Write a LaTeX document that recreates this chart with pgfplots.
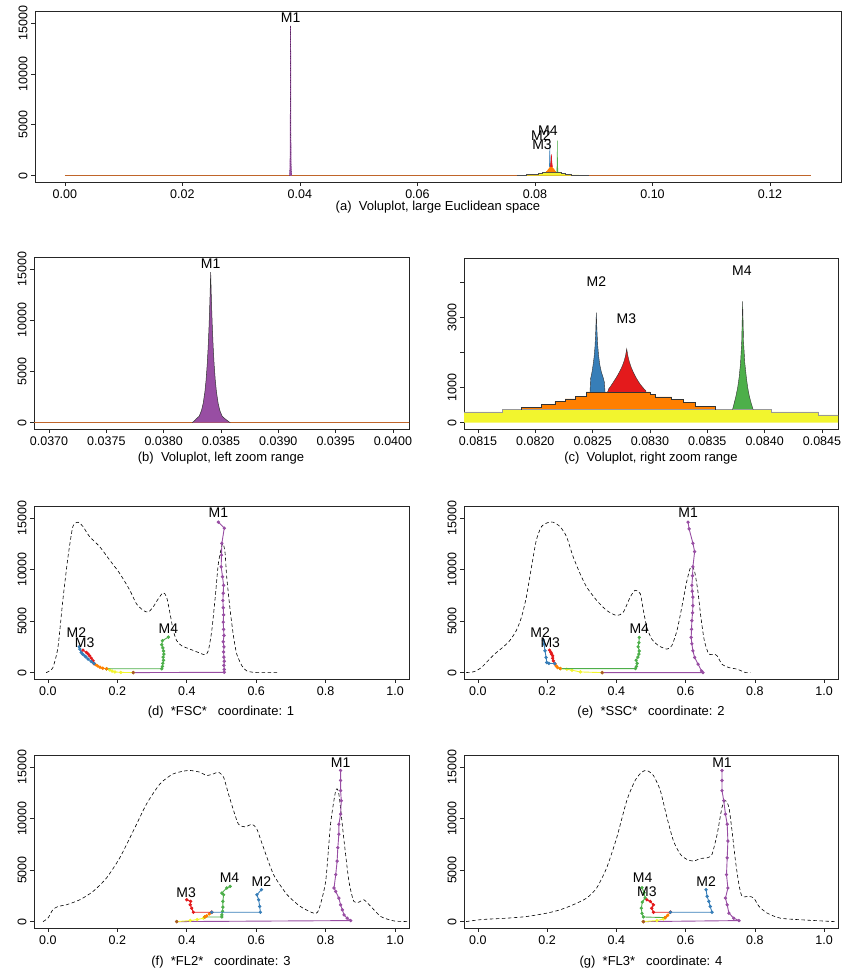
\documentclass[border=0pt]{standalone}
\usepackage{fontspec}
\setmainfont{Liberation Sans}
\usepackage{pgfplots}
\usepackage{pgfplotstable}
\pgfplotsset{compat=1.18}

\definecolor{rpurple}{HTML}{984EA3}
\definecolor{rblue}{HTML}{377EB8}
\definecolor{rred}{HTML}{E41A1C}
\definecolor{rgreen}{HTML}{4DAF4A}
\definecolor{rorange}{HTML}{FF7F00}
\definecolor{ryellow}{HTML}{F2F52E}
\definecolor{rbrown}{HTML}{A65628}
\definecolor{rbase}{HTML}{C0652A}

\newcommand\ticksz{\fontsize{12.5}{14}\selectfont}
\newcommand\labsz{\fontsize{14}{16}\selectfont}
\newcommand\capsz{\fontsize{13}{15}\selectfont}

% voluplot shapes
\pgfplotstableread{
x y
0.038250 0
0.038270 200
0.038285 380
0.038310 627
0.038330 1178
0.038345 1892
0.038360 3037
0.038370 4164
0.038380 5706
0.038388 7345
0.038395 9160
0.038400 10720
0.038405 12550
0.038410 14700
0.038415 12550
0.038420 10720
0.038425 9160
0.038432 7345
0.038440 5706
0.038450 4164
0.038460 3037
0.038475 1892
0.038490 1178
0.038510 627
0.038535 380
0.038555 200
0.038580 0
}\spikeMone

\pgfplotstableread{
x y
0.0770 0
0.0770 50
0.0785 50
0.0785 100
0.0797 100
0.0797 160
0.0806 160
0.0806 230
0.0812 230
0.0812 305
0.081715 305
0.081715 371
0.084061 371
0.084061 305
0.084468 305
0.084468 219
0.0852 219
0.0852 150
0.0862 150
0.0862 90
0.0875 90
0.0875 40
0.0890 40
0.0890 0
}\yellowhist

\pgfplotstableread{
x y
0.081881 360
0.081881 438
0.082055 438
0.082055 514
0.082171 514
0.082171 600
0.082259 600
0.082259 676
0.082346 676
0.082346 752
0.082442 752
0.082442 876
0.083000 876
0.083000 800
0.083044 800
0.083044 733
0.083189 733
0.083189 657
0.083288 657
0.083288 581
0.083392 581
0.083392 467
0.083567 467
0.083567 360
}\orangehist

\pgfplotstableread{
x y
0.082477 876
0.082482 1250
0.082492 1400
0.082502 1600
0.082512 1850
0.082520 2150
0.082527 2600
0.082532 3124
0.082537 2650
0.082544 2200
0.082552 1900
0.082562 1650
0.082575 1450
0.082590 1300
0.082602 1150
0.082608 876
}\spikeMtwo

\pgfplotstableread{
x y
0.082631 876
0.082640 960
0.082660 1050
0.082680 1150
0.082700 1250
0.082720 1360
0.082740 1480
0.082760 1620
0.082775 1760
0.082787 1900
0.082797 2095
0.082807 1900
0.082820 1730
0.082835 1580
0.082855 1430
0.082875 1300
0.082895 1190
0.082915 1090
0.082940 990
0.082965 900
0.082965 876
}\spikeMthree

\pgfplotstableread{
x y
0.083720 371
0.083735 560
0.083750 760
0.083765 1000
0.083778 1300
0.083790 1700
0.083800 2300
0.083808 3448
0.083816 2300
0.083827 1700
0.083840 1300
0.083852 1000
0.083866 760
0.083882 560
0.083900 371
}\spikeMfour

\pgfplotsset{
  rbox/.style={
    scale only axis, anchor=south west, clip mode=individual,
    scaled ticks=false,
    axis line style={black!85, line width=0.6pt},
    tick style={black!85, line width=0.6pt},
    tick align=outside, major tick length=4pt,
    xtick pos=bottom, ytick pos=left,
    ticklabel style={font=\ticksz},
    yticklabel style={rotate=90, anchor=south},
  },
  coord/.style={rbox, width=375pt, height=173pt,
    xmin=-0.04, xmax=1.04, ymin=-620, ymax=16170,
    xtick={0,0.2,0.4,0.6,0.8,1},
    xticklabels={0.0,0.2,0.4,0.6,0.8,1.0},
    ytick={0,5000,10000,15000},
    yticklabels={0,5000,10000,15000}},
  dens/.style={black, line width=0.6pt, dash pattern=on 3.5pt off 2.5pt, smooth, tension=0.4},
  traj/.style={mark=*, mark size=1.2pt, line width=0.9pt},
  root/.style={only marks, mark=*, mark size=1.5pt, rbrown},
}

\begin{document}
\begin{tikzpicture}
\path[use as bounding box] (0pt,0pt) rectangle (843pt,976pt);

% ---------------- (a)
\begin{axis}[rbox, at={(35pt,794pt)}, width=806pt, height=171pt,
  xmin=-0.00508, xmax=0.13208, ymin=-620, ymax=16170,
  xtick={0,0.02,0.04,0.06,0.08,0.1,0.12},
  xticklabels={0.00,0.02,0.04,0.06,0.08,0.10,0.12},
  ytick={0,5000,10000,15000}, yticklabels={0,5000,10000,15000}]
\addplot[gray!60, line width=1.6pt] coordinates {(0,0) (0.127,0)};
\addplot[rbase, line width=0.6pt] coordinates {(0,0) (0.127,0)};
\addplot[fill=ryellow, draw=none] table {\yellowhist};
\addplot[black!70, line width=0.4pt] table {\yellowhist};
\addplot[fill=rorange, draw=none] table {\orangehist};
\addplot[fill=rblue, draw=none] table {\spikeMtwo};
\addplot[fill=rred, draw=none] table {\spikeMthree};
\addplot[fill=rgreen, draw=none] table {\spikeMfour};
\addplot[rblue, line width=0.6pt] table {\spikeMtwo};
\addplot[rred, line width=0.6pt] table {\spikeMthree};
\addplot[rgreen, line width=0.6pt] table {\spikeMfour};
\addplot[fill=rpurple, draw=rpurple, line width=0.8pt] table {\spikeMone};
\addplot[black, line width=0.4pt, dotted] table {\spikeMone};
\node[font=\labsz] at (axis cs:0.03841,15480) {M1};
\node[font=\labsz] at (axis cs:0.0810,3900) {M2};
\node[font=\labsz] at (axis cs:0.0822,4380) {M4};
\node[font=\labsz] at (axis cs:0.0812,3020) {M3};
\end{axis}
\node[font=\capsz] at (438pt,769pt) {(a)\ \ Voluplot, large Euclidean space};

% ---------------- (b)
\begin{axis}[rbox, at={(34pt,547pt)}, width=375pt, height=172pt,
  xmin=0.036869, xmax=0.04014, ymin=-620, ymax=16170,
  xtick={0.037,0.0375,0.038,0.0385,0.039,0.0395,0.04},
  xticklabels={0.0370,0.0375,0.0380,0.0385,0.0390,0.0395,0.0400},
  ytick={0,5000,10000,15000}, yticklabels={0,5000,10000,15000}]
\addplot[rbase, line width=0.8pt] coordinates {(0.0365,0) (0.0405,0)};
\addplot[fill=rpurple, draw=none] table {\spikeMone};
\addplot[black!80, line width=0.5pt] table {\spikeMone};
\node[font=\labsz] at (axis cs:0.03841,15500) {M1};
\end{axis}
\node[font=\capsz] at (221pt,518pt) {(b)\ \ Voluplot, left zoom range};

% ---------------- (c)
\begin{axis}[rbox, at={(464pt,547pt)}, width=374pt, height=171pt,
  xmin=0.081378, xmax=0.08464, ymin=-180, ymax=4680,
  xtick={0.0815,0.082,0.0825,0.083,0.0835,0.084,0.0845},
  xticklabels={0.0815,0.0820,0.0825,0.0830,0.0835,0.0840,0.0845},
  ytick={0,1000,2000,3000,4000}, yticklabels={0,1000,,3000,}]
\addplot[fill=ryellow, draw=none] table {\yellowhist};
\addplot[fill=rorange, draw=none] table {\orangehist};
\addplot[fill=rblue, draw=none] table {\spikeMtwo};
\addplot[fill=rred, draw=none] table {\spikeMthree};
\addplot[fill=rgreen, draw=none] table {\spikeMfour};
\addplot[gray!80, line width=0.5pt] table {\yellowhist};
\addplot[black!80, line width=0.4pt] table {\orangehist};
\addplot[black!80, line width=0.4pt] table {\spikeMtwo};
\addplot[black!80, line width=0.4pt] table {\spikeMthree};
\addplot[black!80, line width=0.4pt] table {\spikeMfour};
\node[font=\labsz] at (axis cs:0.082532,4000) {M2};
\node[font=\labsz] at (axis cs:0.082794,2952) {M3};
\node[font=\labsz] at (axis cs:0.083802,4314) {M4};
\end{axis}
\node[font=\capsz] at (651pt,518pt) {(c)\ \ Voluplot, right zoom range};

% ---------------- (d)
\begin{axis}[coord, at={(34pt,297pt)}]
\addplot[dens] coordinates {(-0.005,0) (0.005,160) (0.0145,490) (0.029,2450) (0.043,7010) (0.058,11250) (0.072,14180) (0.087,14600) (0.101,14180) (0.12,13200) (0.149,12230) (0.178,10920) (0.207,9620) (0.236,7990) (0.255,6680) (0.275,6030) (0.289,5870) (0.303,6360) (0.318,7170) (0.332,7760) (0.342,7330) (0.352,5700) (0.361,4080) (0.371,3100) (0.385,2610) (0.409,2280) (0.438,1890) (0.453,1730) (0.462,2120) (0.472,4080) (0.482,7330) (0.491,10600) (0.503,12500) (0.510,11700) (0.515,9290) (0.525,6030) (0.535,3420) (0.544,1790) (0.559,650) (0.573,160) (0.602,0) (0.665,0)};
\addplot[traj, rpurple] coordinates {(0.246,0) (0.508,30) (0.508,300) (0.507,700) (0.508,1100) (0.507,1500) (0.506,2000) (0.507,2500) (0.505,3000) (0.507,3600) (0.506,4200) (0.505,4900) (0.506,5600) (0.505,6300) (0.504,7000) (0.505,7700) (0.506,8470) (0.503,9300) (0.499,10270) (0.500,11400) (0.501,12550) (0.508,14020) (0.491,14600)};
\addplot[traj, ryellow] coordinates {(0.246,0) (0.21,20) (0.193,60) (0.185,150) (0.178,260) (0.169,370)};
\addplot[traj, rgreen] coordinates {(0.169,370) (0.328,370) (0.330,600) (0.331,900) (0.333,1200) (0.332,1500) (0.334,1800) (0.333,2100) (0.331,2400) (0.328,2700) (0.330,3100) (0.347,3450)};
\addplot[traj, rorange] coordinates {(0.169,370) (0.158,430) (0.15,520) (0.143,650) (0.137,780) (0.133,876)};
\addplot[traj, rred] coordinates {(0.133,876) (0.13,1140) (0.125,1400) (0.12,1630) (0.116,1800) (0.111,1960) (0.101,2180)};
\addplot[traj, rblue] coordinates {(0.133,876) (0.125,1080) (0.116,1300) (0.110,1500) (0.106,1630) (0.100,1800) (0.096,1960) (0.092,2280) (0.090,2510)};
\addplot[root] coordinates {(0.246,0)};
\node[font=\labsz] at (axis cs:0.491,15490) {M1};
\node[font=\labsz] at (axis cs:0.082,3910) {M2};
\node[font=\labsz] at (axis cs:0.106,2930) {M3};
\node[font=\labsz] at (axis cs:0.347,4240) {M4};
\end{axis}
\node[font=\capsz] at (221pt,264pt) {(d)\ \ *FSC*\ \ \ coordinate: 1};

% ---------------- (e)
\begin{axis}[coord, at={(464pt,297pt)}, width=374pt]
\addplot[dens] coordinates {(-0.034,0) (-0.01,100) (0.01,490) (0.029,1140) (0.048,1790) (0.072,2450) (0.092,3100) (0.111,4080) (0.126,5380) (0.14,7330) (0.155,10270) (0.169,12880) (0.184,14180) (0.203,14570) (0.217,14600) (0.237,14180) (0.256,13200) (0.275,11250) (0.295,9620) (0.314,8310) (0.343,7010) (0.372,6030) (0.401,5540) (0.42,5870) (0.44,7330) (0.454,7990) (0.469,7660) (0.478,6030) (0.488,4400) (0.502,3260) (0.522,2610) (0.546,2280) (0.56,2610) (0.575,4080) (0.589,6360) (0.604,8970) (0.615,10270) (0.625,9940) (0.635,7990) (0.644,5380) (0.654,3100) (0.667,1790) (0.681,1790) (0.691,1630) (0.705,815) (0.725,490) (0.749,330) (0.773,0) (0.787,0)};
\addplot[traj, rpurple] coordinates {(0.359,0) (0.65,0) (0.646,160) (0.636,815) (0.626,1470) (0.621,2120) (0.618,2800) (0.616,3420) (0.617,4200) (0.618,5050) (0.62,5800) (0.621,6500) (0.621,7330) (0.619,7900) (0.618,8480) (0.62,9400) (0.621,10270) (0.626,11740) (0.621,12550) (0.61,13950) (0.607,14600)};
\addplot[traj, ryellow] coordinates {(0.359,0) (0.296,65) (0.272,230) (0.257,330) (0.238,390)};
\addplot[traj, rgreen] coordinates {(0.238,390) (0.455,390) (0.458,600) (0.46,900) (0.457,1200) (0.462,1500) (0.465,1800) (0.466,2100) (0.463,2500) (0.465,2900) (0.466,3420)};
\addplot[traj, rorange] coordinates {(0.238,390) (0.23,500) (0.226,650) (0.222,876)};
\addplot[traj, rred] coordinates {(0.222,876) (0.218,1140) (0.216,1400) (0.216,1630) (0.213,1800) (0.211,1960) (0.207,2180)};
\addplot[traj, rblue] coordinates {(0.222,876) (0.205,900) (0.199,980) (0.197,1470) (0.194,2120) (0.191,2770) (0.189,3160)};
\addplot[root] coordinates {(0.359,0)};
\node[font=\labsz] at (axis cs:0.607,15490) {M1};
\node[font=\labsz] at (axis cs:0.18,3910) {M2};
\node[font=\labsz] at (axis cs:0.209,2930) {M3};
\node[font=\labsz] at (axis cs:0.466,4240) {M4};
\end{axis}
\node[font=\capsz] at (651pt,264pt) {(e)\ \ *SSC*\ \ \ coordinate: 2};

% ---------------- (f)
\begin{axis}[coord, at={(34pt,48pt)}]
\addplot[dens] coordinates {(-0.014,0) (0,330) (0.014,1140) (0.029,1470) (0.053,1630) (0.092,2120) (0.13,2930) (0.169,4240) (0.207,6190) (0.246,8800) (0.284,11410) (0.323,13370) (0.361,14340) (0.405,14670) (0.438,14500) (0.457,14180) (0.477,14340) (0.491,14500) (0.506,14020) (0.52,12390) (0.535,10760) (0.549,9450) (0.568,9190) (0.588,9450) (0.602,8960) (0.621,7170) (0.65,4560) (0.689,2610) (0.727,1470) (0.766,815) (0.78,1140) (0.8,3910) (0.814,9450) (0.829,12710) (0.838,12390) (0.853,7820) (0.867,3910) (0.881,1960) (0.896,1890) (0.91,2120) (0.93,1470) (0.959,490) (0.997,65) (1.04,0)};
\addplot[traj, rpurple] coordinates {(0.371,0) (0.872,100) (0.862,330) (0.853,650) (0.848,1140) (0.843,1630) (0.838,2280) (0.829,2930) (0.824,3260) (0.829,4560) (0.833,5870) (0.835,7170) (0.838,8480) (0.838,9450) (0.843,10430) (0.845,11740) (0.843,12710) (0.843,13700) (0.843,14670)};
\addplot[traj, ryellow] coordinates {(0.371,0) (0.41,100) (0.43,200) (0.448,330) (0.452,450)};
\addplot[traj, rgreen] coordinates {(0.452,450) (0.501,450) (0.501,650) (0.503,1000) (0.504,1400) (0.504,1960) (0.506,2610) (0.501,2770) (0.515,3260) (0.525,3420)};
\addplot[traj, rorange] coordinates {(0.452,450) (0.457,550) (0.465,750) (0.472,910)};
\addplot[traj, rred] coordinates {(0.472,910) (0.419,910) (0.414,1300) (0.41,1630) (0.411,1960) (0.4,2120)};
\addplot[traj, rblue] coordinates {(0.472,910) (0.612,910) (0.61,1470) (0.607,2120) (0.602,2610) (0.615,3100)};
\addplot[root] coordinates {(0.371,0)};
\node[font=\labsz] at (axis cs:0.843,15400) {M1};
\node[font=\labsz] at (axis cs:0.615,3910) {M2};
\node[font=\labsz] at (axis cs:0.398,2770) {M3};
\node[font=\labsz] at (axis cs:0.523,4240) {M4};
\end{axis}
\node[font=\capsz] at (221pt,14pt) {(f)\ \ *FL2*\ \ \ coordinate: 3};

% ---------------- (g)
\begin{axis}[coord, at={(464pt,48pt)}, width=374pt]
\addplot[dens] coordinates {(-0.034,0) (0,160) (0.024,230) (0.082,330) (0.14,490) (0.198,815) (0.237,1140) (0.275,1630) (0.314,2280) (0.343,3260) (0.372,5220) (0.401,8150) (0.43,11740) (0.454,13690) (0.473,14500) (0.488,14670) (0.507,14180) (0.527,12710) (0.546,10110) (0.565,7820) (0.585,6520) (0.604,6030) (0.623,5870) (0.643,6130) (0.662,6190) (0.676,6520) (0.691,8480) (0.705,11080) (0.715,11740) (0.725,11080) (0.734,8800) (0.744,5870) (0.754,3590) (0.763,2450) (0.783,2450) (0.797,2280) (0.812,1470) (0.836,815) (0.874,330) (0.942,160) (1.03,0)};
\addplot[traj, rpurple] coordinates {(0.478,0) (0.754,100) (0.739,330) (0.725,815) (0.72,1630) (0.715,2280) (0.722,3260) (0.718,4560) (0.72,6190) (0.722,7820) (0.72,9450) (0.715,10430) (0.71,11740) (0.705,12710) (0.705,13700) (0.705,14670)};
\addplot[traj, ryellow] coordinates {(0.478,0) (0.517,100) (0.536,260) (0.541,390)};
\addplot[traj, rgreen] coordinates {(0.541,390) (0.478,450) (0.474,800) (0.472,1300) (0.475,1900) (0.483,2300) (0.48,2800) (0.474,3300)};
\addplot[traj, rorange] coordinates {(0.541,390) (0.548,600) (0.556,910)};
\addplot[traj, rred] coordinates {(0.556,910) (0.507,910) (0.502,1300) (0.507,1630) (0.498,1960) (0.488,2120)};
\addplot[traj, rblue] coordinates {(0.556,910) (0.676,910) (0.671,1470) (0.667,1960) (0.662,2450) (0.659,3100)};
\addplot[root] coordinates {(0.478,0)};
\node[font=\labsz] at (axis cs:0.705,15390) {M1};
\node[font=\labsz] at (axis cs:0.659,3910) {M2};
\node[font=\labsz] at (axis cs:0.488,2930) {M3};
\node[font=\labsz] at (axis cs:0.476,4240) {M4};
\end{axis}
\node[font=\capsz] at (651pt,14pt) {(g)\ \ *FL3*\ \ \ coordinate: 4};
\end{tikzpicture}
\end{document}
